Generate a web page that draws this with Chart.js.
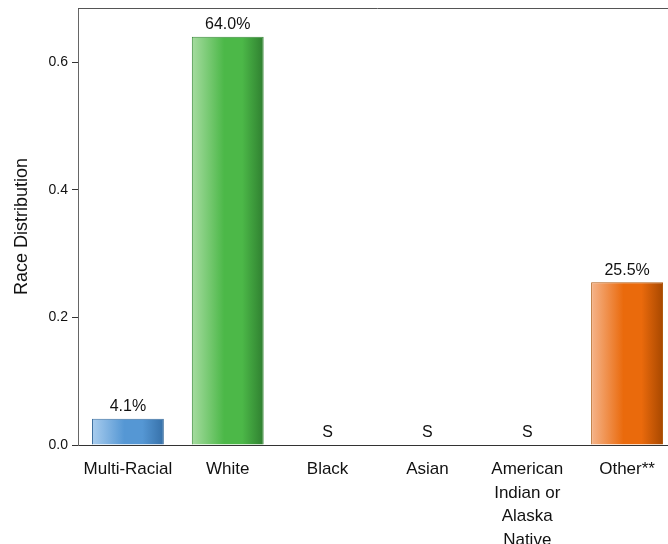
<!DOCTYPE html>
<html>
<head>
<meta charset="utf-8">
<script src="https://cdn.jsdelivr.net/npm/chart.js@4"></script>
<style>
  html, body { margin: 0; padding: 0; background: #fff; overflow: hidden; }
  #wrap { width: 678px; height: 544px; }
</style>
</head>
<body>
<div id="wrap"><canvas id="raceChart"></canvas></div>
<script>
const categories = ["Multi-Racial", "White", "Black", "Asian", ["American", "Indian or", "Alaska", "Native"], "Other**"];
const shares = [0.041, 0.640, 0, 0, 0, 0.255];
const barLabels = ["4.1%", "64.0%", "S", "S", "S", "25.5%"];
const yTicks = [0, 0.2, 0.4, 0.6];

// light / mid / dark per bar
const palette = [
  ["#a9cdee", "#5597d4", "#3670a8"],
  ["#a6dca0", "#4cb848", "#2f7f30"],
  ["#999999", "#666666", "#444444"],
  ["#999999", "#666666", "#444444"],
  ["#999999", "#666666", "#444444"],
  ["#f5b48a", "#ea6a0c", "#a84800"]
];
const borders = ["#3d6f9e", "#3a8a3a", "#444", "#444", "#444", "#b05a10"];

const gradientBars = {
  id: "gradientBars",
  beforeDatasetsDraw(chart) {
    const ctx = chart.ctx;
    chart.getDatasetMeta(0).data.forEach((bar, i) => {
      const half = bar.width / 2;
      const g = ctx.createLinearGradient(bar.x - half, 0, bar.x + half, 0);
      const c = palette[i];
      g.addColorStop(0, c[0]);
      g.addColorStop(0.45, c[1]);
      g.addColorStop(0.7, c[1]);
      g.addColorStop(1, c[2]);
      bar.options.backgroundColor = g;
    });
  }
};

const valueLabels = {
  id: "valueLabels",
  afterDatasetsDraw(chart) {
    const ctx = chart.ctx;
    ctx.save();
    ctx.font = "16px 'Liberation Sans', Arial, sans-serif";
    ctx.fillStyle = "#111";
    ctx.textAlign = "center";
    ctx.textBaseline = "bottom";
    chart.getDatasetMeta(0).data.forEach((bar, i) => {
      ctx.fillText(barLabels[i], bar.x, bar.y - 4);
    });
    ctx.restore();
  }
};

const frameTop = {
  id: "frameTop",
  afterDraw(chart) {
    const a = chart.chartArea;
    const ctx = chart.ctx;
    ctx.save();
    ctx.strokeStyle = "#555";
    ctx.lineWidth = 1;
    ctx.beginPath();
    ctx.moveTo(a.left, a.top + 0.5);
    ctx.lineTo(a.right, a.top + 0.5);
    ctx.stroke();
    ctx.restore();
  }
};

new Chart(document.getElementById("raceChart"), {
  type: "bar",
  data: {
    labels: categories,
    datasets: [{
      data: shares,
      borderColor: borders,
      borderWidth: 1,
      barPercentage: 0.72,
      categoryPercentage: 1
    }]
  },
  options: {
    responsive: true,
    maintainAspectRatio: false,
    animation: false,
    layout: { padding: { top: 8, right: 1, left: 0, bottom: 0 } },
    plugins: { legend: { display: false }, tooltip: { enabled: false } },
    scales: {
      x: {
        grid: { display: false },
        border: { color: "#333" },
        ticks: {
          color: "#111",
          font: { size: 17, family: "'Liberation Sans', Arial, sans-serif", lineHeight: 1.38 },
          padding: 5,
          maxRotation: 0,
          autoSkip: false
        },
        afterFit(scale) { scale.height = 99; }
      },
      y: {
        min: 0,
        max: 0.685,
        afterBuildTicks(scale) { scale.ticks = yTicks.map(v => ({ value: v })); },
        grid: { drawOnChartArea: false, drawTicks: true, tickLength: 6, color: "#333" },
        border: { color: "#666" },
        ticks: {
          color: "#111",
          font: { size: 14, family: "'Liberation Sans', Arial, sans-serif" },
          padding: 4,
          callback: v => Number(v).toFixed(1)
        },
        title: {
          display: true,
          text: "Race Distribution",
          color: "#111",
          font: { size: 18, family: "'Liberation Sans', Arial, sans-serif" },
          padding: { top: 11, bottom: 0 }
        },
        afterFit(scale) {
          scale.width = 78;
          scale.paddingTop = 0;
          scale.paddingBottom = 0;
        }
      }
    }
  },
  plugins: [gradientBars, valueLabels, frameTop]
});
</script>
</body>
</html>
